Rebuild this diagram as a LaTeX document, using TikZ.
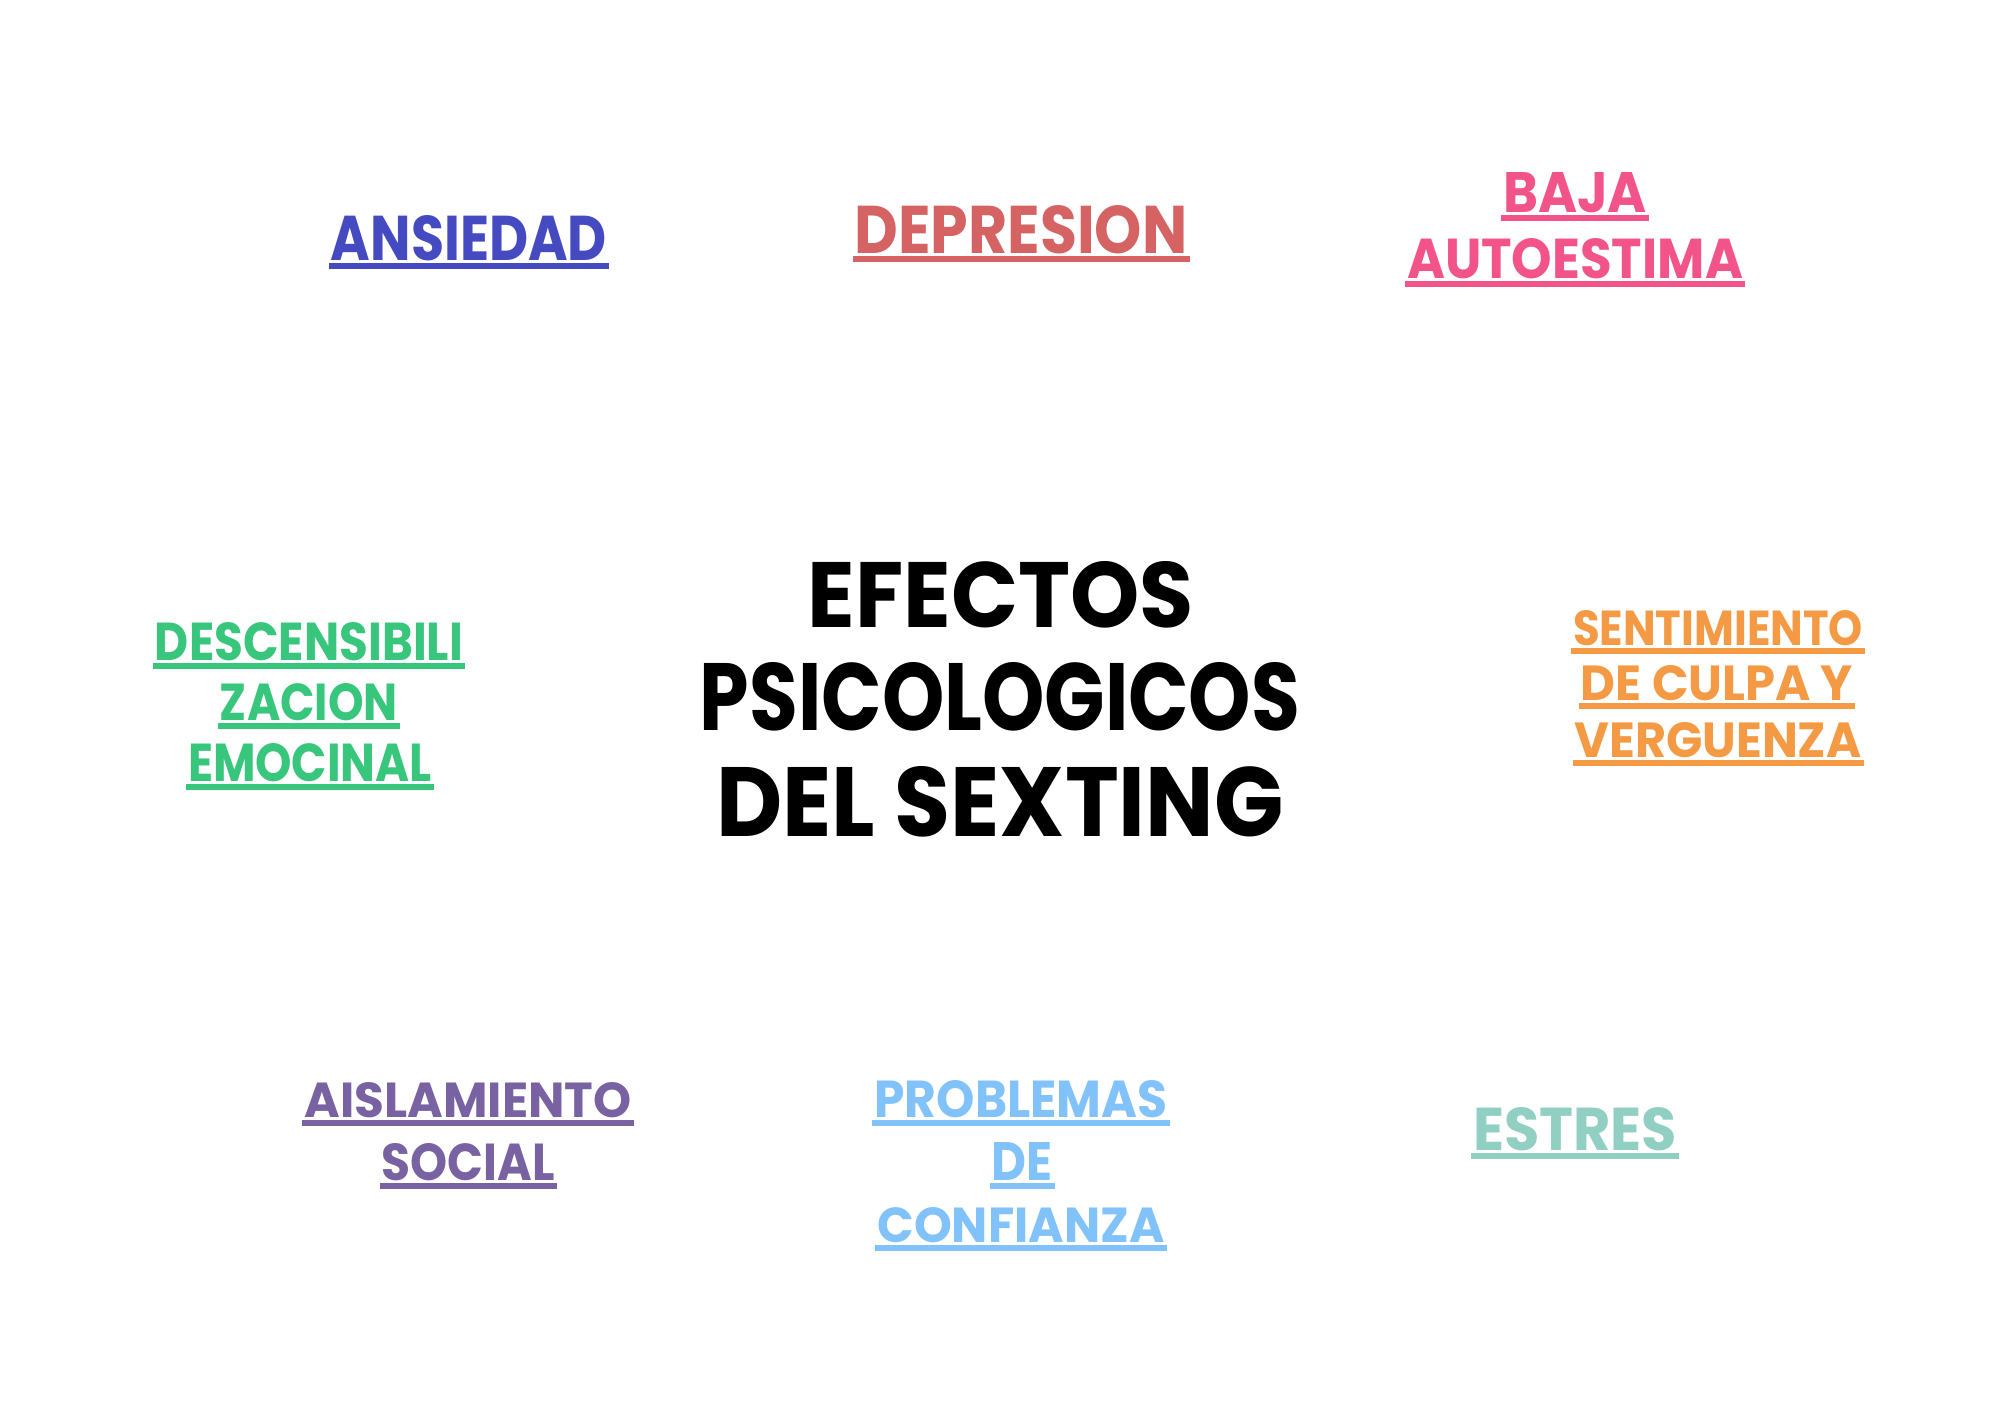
\documentclass[tikz,border=0pt]{standalone}
\usepackage{fontspec}
\setmainfont{Poppins}
\usepackage{graphicx}
\newlength\pxu
\setlength\pxu{0.5pt}
\newcommand\fitt[3]{\resizebox{#1\pxu}{#2\pxu}{\bfseries #3}}
\definecolor{cAns}{HTML}{454AC1}
\definecolor{cDep}{HTML}{D56363}
\definecolor{cBaj}{HTML}{F2548A}
\definecolor{cDes}{HTML}{38C67C}
\definecolor{cSen}{HTML}{F59A44}
\definecolor{cAis}{HTML}{7962A2}
\definecolor{cPro}{HTML}{82C2FB}
\definecolor{cEst}{HTML}{91CFC3}
\tikzset{
  lbl/.style={anchor=base, inner sep=0pt, outer sep=0pt},
  ul/.style={line width=3pt},
  ttl/.style={anchor=base, inner sep=0pt, outer sep=0pt, text=black}
}
\newcommand\ulab[7]{%
  \node[lbl,text=#2] (#1) at (#3,#4) {\fitt{#5}{#6}{#7}};
  \draw[ul,draw=#2] ([xshift=-1pt,yshift=-3.2pt]#1.base west) -- ([xshift=1pt,yshift=-3.2pt]#1.base east);}
\begin{document}
\begin{tikzpicture}[x=0.5pt,y=-0.5pt]
\path[fill=white] (0,0) rectangle (1999,1414);
% title
\node[ttl] (t1) at (1001,627) {\fitt{386}{66}{EFECTOS}};
\node[ttl] (t2) at (1000,730) {\fitt{600}{68}{PSICOLOGICOS}};
\node[ttl] (t3) at (1000,836) {\fitt{567}{70}{DEL SEXTING}};
% labels
\ulab{ans}{cAns}{469}{260}{276}{45}{ANSIEDAD}
\ulab{dep}{cDep}{1021}{253}{333}{48}{DEPRESION}
\ulab{baja}{cBaj}{1575}{212}{144}{40}{BAJA}
\ulab{auto}{cBaj}{1575}{278}{336}{40}{AUTOESTIMA}
\ulab{des1}{cDes}{309}{660}{308}{38}{DESCENSIBILI}
\ulab{des2}{cDes}{309}{720}{178}{37}{ZACION}
\ulab{des3}{cDes}{310}{781}{244}{38}{EMOCINAL}
\ulab{sen1}{cSen}{1718}{645}{290}{35}{SENTIMIENTO}
\ulab{sen2}{cSen}{1717}{700}{272}{35}{DE CULPA Y}
\ulab{sen3}{cSen}{1718}{757}{287}{35}{VERGUENZA}
\ulab{ais1}{cAis}{468}{1117}{327}{35}{AISLAMIENTO}
\ulab{ais2}{cAis}{468}{1180}{173}{37}{SOCIAL}
\ulab{pro1}{cPro}{1021}{1117}{293}{37}{PROBLEMAS}
\ulab{pro2}{cPro}{1022}{1180}{61}{38}{DE}
\ulab{pro3}{cPro}{1021}{1242}{287}{35}{CONFIANZA}
\ulab{est}{cEst}{1575}{1150}{204}{43}{ESTRES}
\end{tikzpicture}
\end{document}
